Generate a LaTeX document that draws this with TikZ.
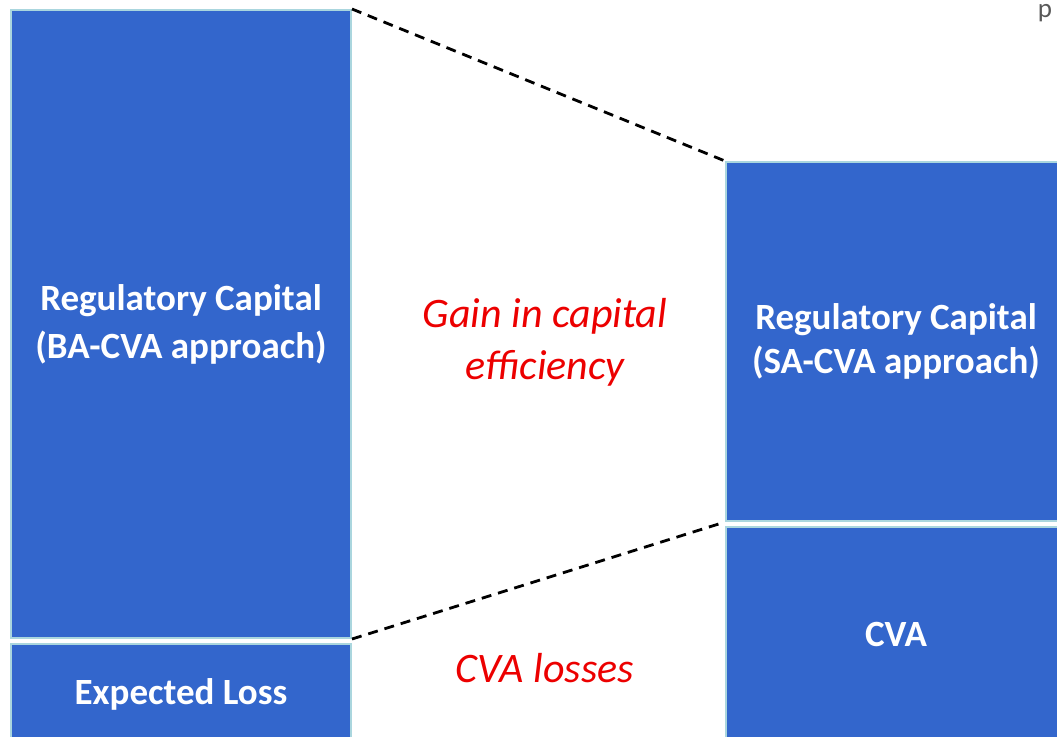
\documentclass[tikz,border=0pt]{standalone}
\usepackage{fontspec}
\setmainfont{Carlito}
\usepackage{xcolor}
\usetikzlibrary{positioning}
\definecolor{barblue}{RGB}{51,102,204}
\definecolor{barrim}{RGB}{170,214,222}
\definecolor{gainred}{RGB}{236,0,0}
\tikzset{ % global config
    x=1pt, y=-1pt, % one unit per pixel, y runs downwards
    bar/.style={draw=barrim, fill=barblue, line width=2pt, text=white, inner sep=0pt,
        align=center, font=\fontsize{37}{48}\selectfont\bfseries}, % the blue blocks
    note/.style={text=gainred, align=center, font=\fontsize{42}{52}\selectfont\itshape}, % red remarks
    bridge/.style={line width=2.8pt, dash pattern=on 10pt off 7pt}, % dashed links between blocks
}

\begin{document}
\begin{tikzpicture}

		\useasboundingbox (0,0) rectangle (1057,736);
		\clip (0,0) rectangle (1057,736);
		\node[bar, minimum width=340pt, minimum height=628pt] (ba) at (181,324) {Regulatory Capital\\(BA-CVA approach)};
		\node[bar, minimum width=340pt, minimum height=100pt, below=4pt of ba] (el) {Expected Loss};
		\node[bar, minimum width=340pt, minimum height=359pt] (sa) at (896,341.5) {Regulatory Capital\\[-4pt](SA-CVA approach)};
		\node[bar, minimum width=340pt, minimum height=215pt, below=4pt of sa] (cva) {CVA};
		\node[note] (gain) at (545,342) {Gain in capital\\efficiency};
		\node[note] (loss) at (545,668) {CVA losses};
		\node[inner sep=0pt, text=gray!70!black, font=\fontsize{27}{30}\selectfont] (p) at (1045,13) {p};
		\draw[bridge] (ba.north east) -- (sa.north west)
		(ba.south east) -- (sa.south west);

\end{tikzpicture}
\end{document}
